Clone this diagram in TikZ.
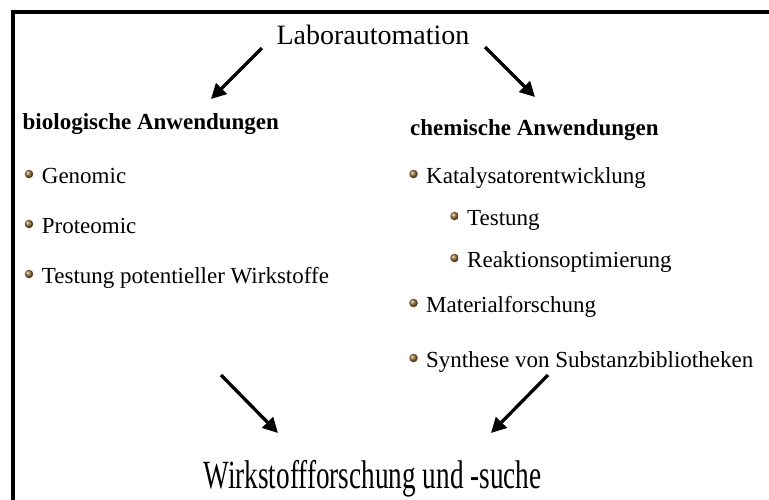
\documentclass[tikz,border=0pt]{standalone}
\usepackage{fontspec}
\setmainfont{Liberation Serif}
\usetikzlibrary{arrows.meta}
\definecolor{bulletbrown}{RGB}{150,110,55}
\begin{document}
\begin{tikzpicture}[x=1pt,y=-1pt,
  txt/.style={anchor=base west, inner sep=0pt, font=\fontsize{23}{28}\selectfont},
  head/.style={anchor=base west, inner sep=0pt, font=\fontsize{23}{28}\selectfont\bfseries},
  big/.style={anchor=base, inner sep=0pt},
  ball/.style={circle, inner sep=0pt, minimum size=8.5pt, shading=ball, ball color=bulletbrown},
  flow/.style={line width=3.3pt, -{Triangle[length=15pt,width=15pt]}}]
\useasboundingbox (0,0) rectangle (769,499);
\fill[white] (0,0) rectangle (769,499);
% frame: top and left edges only
\draw[line width=4pt] (775,12) -- (13,12) -- (13,505);

% title and goal
\node[big, font=\fontsize{28}{32}\selectfont] (lab) at (373,44) {Laborautomation};
\node[big, font=\fontsize{40}{44}\selectfont] (wirk) at (372.5,488) {\scalebox{0.68}[1]{Wirkstoffforschung und -suche}};

% biological applications
\node[head] (bio) at (22.5,129) {biologische Anwendungen};
\node[txt] (gen) at (41.7,183) {Genomic};
\node[txt] (prot) at (41.7,233) {Proteomic};
\node[txt] (test) at (41.7,283) {Testung potentieller Wirkstoffe};
\node[ball] (bgen) at (29,174) {};
\node[ball] (bprot) at (29,224) {};
\node[ball] (btest) at (29,274) {};

% chemical applications
\node[head] (chem) at (410,135) {chemische Anwendungen};
\node[txt] (kat) at (426,183) {Katalysatorentwicklung};
\node[txt] (ktest) at (467,225) {Testung};
\node[txt] (kopt) at (467,267) {Reaktionsoptimierung};
\node[txt] (mat) at (426,312) {Materialforschung};
\node[txt] (syn) at (426,367) {Synthese von Substanzbibliotheken};
\node[ball] (bkat) at (413.5,174) {};
\node[ball] (bktest) at (454.5,216) {};
\node[ball] (bkopt) at (454.5,258) {};
\node[ball] (bmat) at (413.5,303) {};
\node[ball] (bsyn) at (413.5,358) {};

% arrows
\coordinate (tl0) at (262,48);  \coordinate (tl1) at (211,99);
\coordinate (tr0) at (485,47);  \coordinate (tr1) at (535,97);
\coordinate (bl0) at (221,375); \coordinate (bl1) at (278,433);
\coordinate (br0) at (548,375); \coordinate (br1) at (491,433);
\draw[flow] (tl0) -- (tl1);
\draw[flow] (tr0) -- (tr1);
\draw[flow] (bl0) -- (bl1);
\draw[flow] (br0) -- (br1);
\end{tikzpicture}
\end{document}
